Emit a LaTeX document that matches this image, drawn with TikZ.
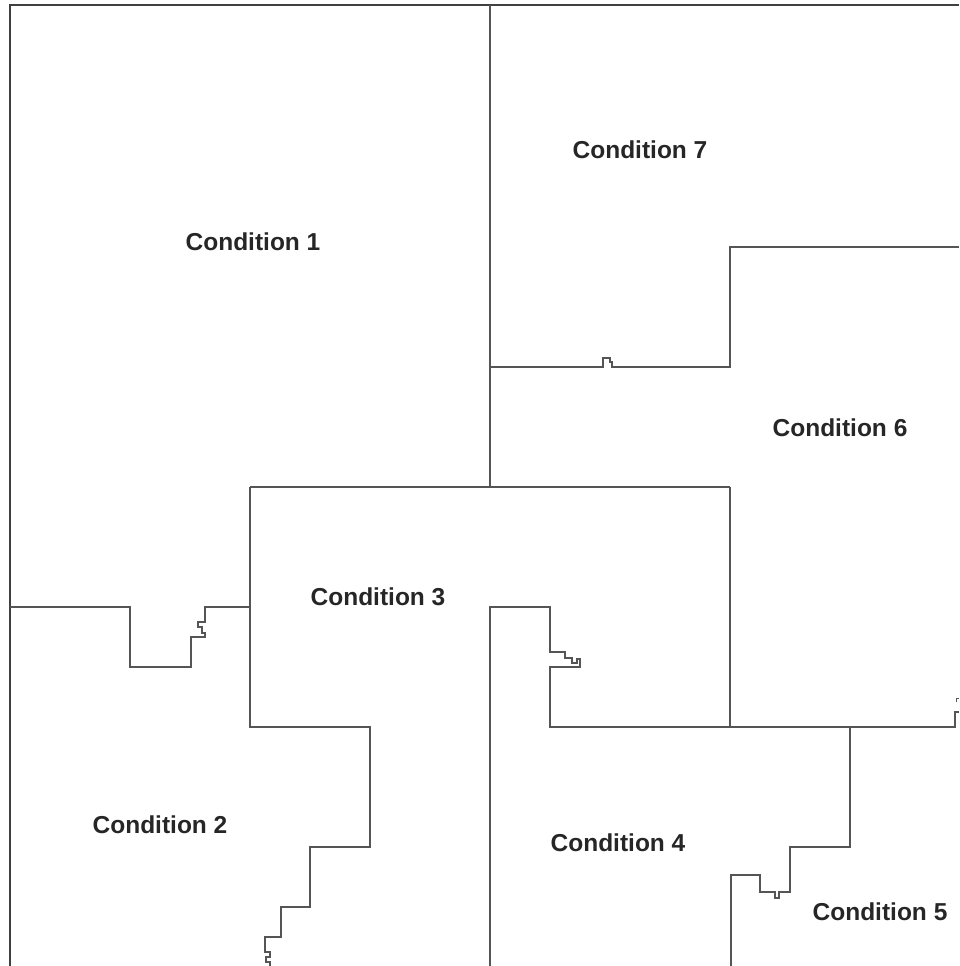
\documentclass[tikz,border=0pt]{standalone}
\usepackage{fontspec}
\setmainfont{Liberation Sans}
\usepackage{tikz}
\usetikzlibrary{positioning}
\definecolor{WallGray}{HTML}{555555}

\begin{document}
\begin{tikzpicture}[x=1pt, y=-1pt, every node/.style={font=\fontsize{24.5}{28}\selectfont\bfseries, text=black!85}, wall/.style={draw=WallGray, line width=1.1pt, line join=miter}, frame/.style={draw=black!75, line width=2pt}]
\useasboundingbox (0,0) rectangle (959,966);
% outer frame, cut off on the right and at the bottom
\draw[frame] (10,966) -- (10,5) -- (959,5);
% upper split
\draw[wall] (490,5) -- (490,487);
\draw[wall] (250,487) -- (730,487);
\draw[wall] (490,367) -- (603,367) -- (603,358) -- (610,358) -- (610,362) -- (612,362) -- (612,367) -- (730,367) -- (730,247) -- (959,247);
\draw[wall] (730,487) -- (730,727);
% left side
\draw[wall] (10,607) -- (130,607) -- (130,667) -- (191,667) -- (191,637) -- (205,637) -- (205,633) -- (202,633) -- (202,627) -- (198,627) -- (198,622) -- (205,622) -- (205,607) -- (250,607);
\draw[wall] (250,487) -- (250,727) -- (370,727) -- (370,847) -- (310,847) -- (310,907) -- (281,907) -- (281,937) -- (265,937) -- (265,952) -- (270,952) -- (270,957) -- (266,957) -- (266,962) -- (270,962) -- (270,966);
% lower right
\draw[wall] (490,966) -- (490,607) -- (550,607) -- (550,652) -- (565,652) -- (565,658) -- (572,658) -- (572,663) -- (577,663) -- (577,659) -- (580,659) -- (580,667) -- (550,667) -- (550,727) -- (955,727) -- (955,712) -- (959,712);
\draw[wall, line width=0.6pt] (956,702) -- (956,698) -- (959,698);
\draw[wall] (850,727) -- (850,847) -- (790,847) -- (790,892) -- (779,892) -- (779,898) -- (775,898) -- (775,892) -- (760,892) -- (760,875) -- (731,875) -- (731,966);
% labels
\node (cond1) at (253,242) {Condition 1};
\node (cond7) at (640,150) {Condition 7};
\node (cond6) at (840,428) {Condition 6};
\node (cond3) at (378,597) {Condition 3};
\node (cond2) at (160,825) {Condition 2};
\node (cond4) at (618,843) {Condition 4};
\node (cond5) at (880,912) {Condition 5};
\end{tikzpicture}
\end{document}
